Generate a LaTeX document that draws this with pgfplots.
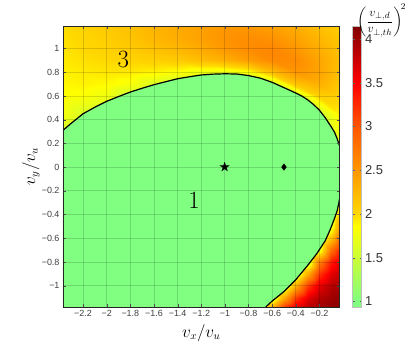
\documentclass[border=0pt]{standalone}
\usepackage[no-math]{fontspec}
\setmainfont{Liberation Sans}
\usepackage{amssymb}
\usepackage{pgfplots}
\usepackage{pgfplotstable}
\pgfplotsset{compat=1.18}

% upper band (above the boundary), x varies fastest
\pgfplotstableread{
x y v
-2.37 0.15 1.5
-2.2 0.15 1.5
-2.0 0.15 1.5
-1.8 0.15 1.5
-1.6 0.15 1.5
-1.4 0.15 1.5
-1.2 0.15 1.5
-1.0 0.15 1.5
-0.8 0.15 1.5
-0.6 0.15 1.5
-0.4 0.15 1.5
-0.2 0.15 1.5
-0.03 0.15 1.5
-2.37 0.30 1.55
-2.2 0.30 1.5
-2.0 0.30 1.5
-1.8 0.30 1.5
-1.6 0.30 1.5
-1.4 0.30 1.5
-1.2 0.30 1.5
-1.0 0.30 1.5
-0.8 0.30 1.5
-0.6 0.30 1.5
-0.4 0.30 1.5
-0.2 0.30 1.5
-0.03 0.30 1.78
-2.37 0.45 1.78
-2.2 0.45 1.6
-2.0 0.45 1.5
-1.8 0.45 1.5
-1.6 0.45 1.5
-1.4 0.45 1.5
-1.2 0.45 1.5
-1.0 0.45 1.5
-0.8 0.45 1.5
-0.6 0.45 1.5
-0.4 0.45 1.5
-0.2 0.45 1.5
-0.03 0.45 1.92
-2.37 0.60 1.85
-2.2 0.60 1.83
-2.0 0.60 1.75
-1.8 0.60 1.5
-1.6 0.60 1.5
-1.4 0.60 1.5
-1.2 0.60 1.5
-1.0 0.60 1.5
-0.8 0.60 1.5
-0.6 0.60 1.5
-0.4 0.60 1.5
-0.2 0.60 2.05
-0.03 0.60 2.05
-2.37 0.70 1.88
-2.2 0.70 1.9
-2.0 0.70 1.87
-1.8 0.70 1.8
-1.6 0.70 1.62
-1.4 0.70 1.5
-1.2 0.70 1.5
-1.0 0.70 1.5
-0.8 0.70 1.5
-0.6 0.70 1.5
-0.4 0.70 2.15
-0.2 0.70 2.3
-0.03 0.70 2.12
-2.37 0.80 1.9
-2.2 0.80 1.93
-2.0 0.80 1.95
-1.8 0.80 1.94
-1.6 0.80 1.9
-1.4 0.80 1.84
-1.2 0.80 1.75
-1.0 0.80 1.72
-0.8 0.80 1.82
-0.6 0.80 2.2
-0.4 0.80 2.5
-0.2 0.80 2.4
-0.03 0.80 2.17
-2.37 0.90 1.93
-2.2 0.90 1.97
-2.0 0.90 2.0
-1.8 0.90 2.03
-1.6 0.90 2.06
-1.4 0.90 2.1
-1.2 0.90 2.2
-1.0 0.90 2.3
-0.8 0.90 2.45
-0.6 0.90 2.6
-0.4 0.90 2.58
-0.2 0.90 2.38
-0.03 0.90 2.2
-2.37 1.00 1.95
-2.2 1.00 2.0
-2.0 1.00 2.05
-1.8 1.00 2.1
-1.6 1.00 2.18
-1.4 1.00 2.25
-1.2 1.00 2.35
-1.0 1.00 2.48
-0.8 1.00 2.58
-0.6 1.00 2.62
-0.4 1.00 2.5
-0.2 1.00 2.32
-0.03 1.00 2.17
-2.37 1.10 1.97
-2.2 1.10 2.02
-2.0 1.10 2.08
-1.8 1.10 2.15
-1.6 1.10 2.25
-1.4 1.10 2.33
-1.2 1.10 2.42
-1.0 1.10 2.52
-0.8 1.10 2.56
-0.6 1.10 2.52
-0.4 1.10 2.4
-0.2 1.10 2.25
-0.03 1.10 2.12
-2.37 1.19 1.98
-2.2 1.19 2.04
-2.0 1.19 2.1
-1.8 1.19 2.17
-1.6 1.19 2.27
-1.4 1.19 2.34
-1.2 1.19 2.42
-1.0 1.19 2.48
-0.8 1.19 2.48
-0.6 1.19 2.42
-0.4 1.19 2.32
-0.2 1.19 2.18
-0.03 1.19 2.07
}\upperband

% lower right corner (below the boundary)
\pgfplotstableread{
x y v
-0.7 -1.18 1.5
-0.6 -1.18 2.29
-0.5 -1.18 3.16
-0.4 -1.18 3.62
-0.3 -1.18 3.87
-0.2 -1.18 4.0
-0.1 -1.18 4.07
-0.03 -1.18 4.1
-0.7 -1.10 1.5
-0.6 -1.10 1.5
-0.5 -1.10 2.36
-0.4 -1.10 3.19
-0.3 -1.10 3.64
-0.2 -1.10 3.88
-0.1 -1.10 4.0
-0.03 -1.10 4.06
-0.7 -1.00 1.5
-0.6 -1.00 1.5
-0.5 -1.00 1.5
-0.4 -1.00 2.36
-0.3 -1.00 3.19
-0.2 -1.00 3.64
-0.1 -1.00 3.88
-0.03 -1.00 3.97
-0.7 -0.90 1.5
-0.6 -0.90 1.5
-0.5 -0.90 1.5
-0.4 -0.90 1.5
-0.3 -0.90 2.36
-0.2 -0.90 3.19
-0.1 -0.90 3.64
-0.03 -0.90 3.82
-0.7 -0.80 1.5
-0.6 -0.80 1.5
-0.5 -0.80 1.5
-0.4 -0.80 1.5
-0.3 -0.80 1.5
-0.2 -0.80 2.67
-0.1 -0.80 3.36
-0.03 -0.80 3.64
-0.7 -0.70 1.5
-0.6 -0.70 1.5
-0.5 -0.70 1.5
-0.4 -0.70 1.5
-0.3 -0.70 1.5
-0.2 -0.70 1.63
-0.1 -0.70 2.8
-0.03 -0.70 3.28
-0.7 -0.60 1.5
-0.6 -0.60 1.5
-0.5 -0.60 1.5
-0.4 -0.60 1.5
-0.3 -0.60 1.5
-0.2 -0.60 1.5
-0.1 -0.60 2.13
-0.03 -0.60 2.84
-0.7 -0.50 1.5
-0.6 -0.50 1.5
-0.5 -0.50 1.5
-0.4 -0.50 1.5
-0.3 -0.50 1.5
-0.2 -0.50 1.5
-0.1 -0.50 1.63
-0.03 -0.50 2.52
-0.7 -0.40 1.5
-0.6 -0.40 1.5
-0.5 -0.40 1.5
-0.4 -0.40 1.5
-0.3 -0.40 1.5
-0.2 -0.40 1.5
-0.1 -0.40 1.5
-0.03 -0.40 2.13
-0.7 -0.30 1.5
-0.6 -0.30 1.5
-0.5 -0.30 1.5
-0.4 -0.30 1.5
-0.3 -0.30 1.5
-0.2 -0.30 1.5
-0.1 -0.30 1.5
-0.03 -0.30 1.8
-0.7 -0.20 1.5
-0.6 -0.20 1.5
-0.5 -0.20 1.5
-0.4 -0.20 1.5
-0.3 -0.20 1.5
-0.2 -0.20 1.5
-0.1 -0.20 1.5
-0.03 -0.20 1.5
}\lowercorner

\definecolor{regiongreen}{RGB}{128,255,128}

\begin{document}
\begin{tikzpicture}
\path[use as bounding box] (-63bp,-39bp) rectangle (352bp,307bp);
\begin{axis}[
    name=main,
    scale only axis,
    width=276.5bp, height=281bp,
    xmin=-2.37, xmax=-0.03,
    ymin=-1.18, ymax=1.19,
    axis on top,
    grid=major,
    major grid style={black, opacity=0.15, line width=0.8bp},
    tick align=inside,
    xtick pos=both, ytick pos=both,
    xticklabel pos=bottom, yticklabel pos=left,
    major tick length=3bp,
    axis line style={black!85, line width=0.8bp},
    tick style={black!70},
    tick label style={font=\fontsize{9}{10}\selectfont, text=black!75},
    xtick={-2.2,-2,-1.8,-1.6,-1.4,-1.2,-1,-0.8,-0.6,-0.4,-0.2},
    xticklabels={−2.2,−2,−1.8,−1.6,−1.4,−1.2,−1,−0.8,−0.6,−0.4,−0.2},
    ytick={-1,-0.8,-0.6,-0.4,-0.2,0,0.2,0.4,0.6,0.8,1},
    yticklabels={−1,−0.8,−0.6,−0.4,−0.2,0,0.2,0.4,0.6,0.8,1},
    xlabel={\fontsize{16}{18}\selectfont $v_x/v_u$},
    ylabel={\fontsize{16}{18}\selectfont $v_y/v_u$},
    xlabel style={at={(axis description cs:0.5,0)}, anchor=center, yshift=-26bp},
    ylabel style={at={(axis description cs:-0.1157,0.5)}, anchor=center},
    colormap={bgyr}{[1pt] rgb255(0pt)=(128,255,128); rgb255(6pt)=(128,255,128);
        rgb255(92pt)=(255,255,0); rgb255(107pt)=(255,215,0);
        rgb255(157pt)=(255,150,0); rgb255(207pt)=(255,85,0);
        rgb255(257pt)=(255,0,0); rgb255(322pt)=(128,0,0)},
    point meta min=0.935, point meta max=4.15,
    colorbar,
    colorbar style={
        at={(parent axis.south east)}, anchor=south west,
        xshift=4.5bp,
        scale only axis, width=9bp, height=281bp,
        ytick={1,1.5,2,2.5,3,3.5,4},
        yticklabels={1,1.5,2,2.5,3,3.5,4},
        yticklabel pos=right,
        major tick length=2bp,
        tick style={black!60},
        axis line style={black!25},
        tick label style={font=\fontsize{13}{14}\selectfont, text=black!80},
    },
]
\addplot[surf, shader=interp, mesh/cols=13, point meta=explicit]
    table[x=x, y=y, meta=v] {\upperband};
\addplot[surf, shader=interp, mesh/cols=8, point meta=explicit]
    table[x=x, y=y, meta=v] {\lowercorner};

% region 1 (inside the boundary)
\addplot[fill=regiongreen, draw=none] coordinates {
    (-2.37,0.31) (-2.3,0.37) (-2.2,0.45) (-2.1,0.505) (-2.0,0.555) (-1.9,0.595)
    (-1.8,0.633) (-1.7,0.665) (-1.6,0.695) (-1.5,0.72) (-1.4,0.745) (-1.3,0.762)
    (-1.2,0.777) (-1.1,0.784) (-1.0,0.787) (-0.9,0.785) (-0.8,0.772) (-0.7,0.75)
    (-0.6,0.715) (-0.5,0.67) (-0.4,0.625) (-0.35,0.6) (-0.3,0.568) (-0.25,0.528)
    (-0.2,0.48) (-0.15,0.415) (-0.1,0.34) (-0.07,0.29) (-0.05,0.24) (-0.03,0.18)
    (-0.03,-0.27) (-0.035,-0.30) (-0.05,-0.37) (-0.075,-0.44) (-0.11,-0.53)
    (-0.15,-0.62) (-0.22,-0.727) (-0.3,-0.83) (-0.4,-0.95) (-0.5,-1.05)
    (-0.6,-1.13) (-0.654,-1.18) (-2.37,-1.18)
};

% boundaries
\addplot[black, line width=1.2bp] coordinates {
    (-2.37,0.31) (-2.3,0.37) (-2.2,0.45) (-2.1,0.505) (-2.0,0.555) (-1.9,0.595)
    (-1.8,0.633) (-1.7,0.665) (-1.6,0.695) (-1.5,0.72) (-1.4,0.745) (-1.3,0.762)
    (-1.2,0.777) (-1.1,0.784) (-1.0,0.787) (-0.9,0.785) (-0.8,0.772) (-0.7,0.75)
    (-0.6,0.715) (-0.5,0.67) (-0.4,0.625) (-0.35,0.6) (-0.3,0.568) (-0.25,0.528)
    (-0.2,0.48) (-0.15,0.415) (-0.1,0.34) (-0.07,0.29) (-0.05,0.24) (-0.03,0.18)
};
\addplot[black, line width=1.2bp] coordinates {
    (-0.03,-0.27) (-0.035,-0.30) (-0.05,-0.37) (-0.075,-0.44) (-0.11,-0.53)
    (-0.15,-0.62) (-0.22,-0.727) (-0.3,-0.83) (-0.4,-0.95) (-0.5,-1.05)
    (-0.6,-1.13) (-0.654,-1.18)
};

\addplot[only marks, mark=text,
    text mark={\fontsize{12}{12}\selectfont$\bigstar$}] coordinates {(-1,0)};
\addplot[only marks, mark=diamond*, mark size=3.2bp, black] coordinates {(-0.5,0)};

\node at (axis cs:-1.86,0.91) {\fontsize{24}{24}\selectfont $3$};
\node at (axis cs:-1.26,-0.28) {\fontsize{24}{24}\selectfont $1$};
\end{axis}
\node[anchor=north west, inner sep=0pt] at (294bp,303bp)
    {\fontsize{12.5}{12.5}\selectfont $\displaystyle\Biggl(\frac{v_{\perp,d}}{v_{\perp,th}}\Biggr)^{\!2}$};
\end{tikzpicture}
\end{document}
